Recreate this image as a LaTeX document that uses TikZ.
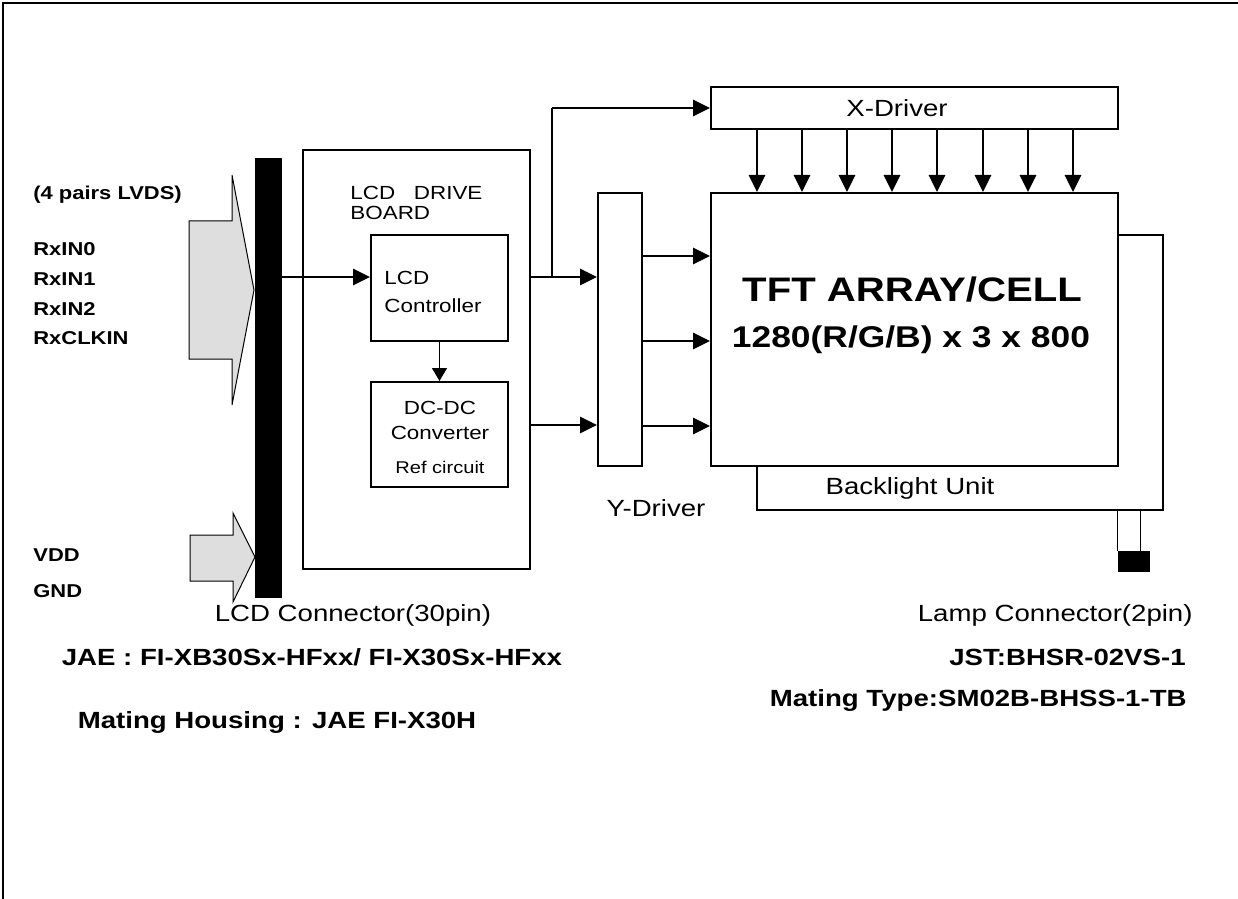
\documentclass[tikz,border=0pt]{standalone}
\usepackage{fontspec}
\setmainfont[FakeStretch=1.18]{Liberation Sans}
\usetikzlibrary{arrows.meta, positioning, calc}

\tikzset{
  box/.style={draw, line width=1pt, fill=white, inner sep=0pt},
  thinbox/.style={draw, line width=0.6pt, fill=white, inner sep=0pt},
  sig/.style={line width=1.4pt, -{Triangle[length=8.5pt, width=8pt]}},
  ctl/.style={line width=0.6pt, -{Triangle[length=6.5pt, width=7.5pt]}},
  inflow/.style={draw, line width=0.5pt, fill=black!13},
  txt/.style={inner sep=0pt, font=\fontsize{11.7}{13}\selectfont},
  btxt/.style={inner sep=0pt, font=\bfseries\fontsize{11.7}{13}\selectfont},
  pin/.style={inner sep=0pt, anchor=west, font=\bfseries\fontsize{9.3}{11}\selectfont},
  small/.style={inner sep=0pt, font=\fontsize{9.5}{12}\selectfont},
}

\begin{document}
\begin{tikzpicture}[x=0.5pt, y=-0.5pt]
    \useasboundingbox (0,0) rectangle (1238,899);

    % Page frame (top and left edges only)
    \draw[line width=1pt] (3,899) -- (3,3) -- (1238,3);

    % ==== Input arrows ====
    \path[inflow] (189,221) -- (232,221) -- (232,175) -- (254,290) -- (232,405) -- (232,359) -- (189,359) -- cycle;
    \path[inflow] (190,535) -- (233,535) -- (233,513) -- (255,557) -- (233,602) -- (233,581) -- (190,581) -- cycle;

    % LCD connector bar
    \node[draw, fill=black, inner sep=0pt, minimum width=13pt, minimum height=219.5pt] (bar) at (268,377.5) {};

    % Signal names
    \node[pin] (lvds) at (33,195) {(4 pairs LVDS)};
    \node[pin] (rxa) at (33,249) {RxIN0};
    \node[pin] (rxb) at (33,279) {RxIN1};
    \node[pin] (rxc) at (33,309) {RxIN2};
    \node[pin] (rxclk) at (33,338) {RxCLKIN};
    \node[pin] (vdd) at (33,555) {VDD};
    \node[pin] (gnd) at (33,591) {GND};

    % ==== LCD drive board ====
    \node[box, minimum width=113.5pt, minimum height=209.5pt] (board) at (416.5,359.5) {};
    \node[small, align=left, anchor=west, font=\fontsize{9.5}{10}\selectfont] (boardlbl) at (350,203) {LCD\ \ \ DRIVE\\BOARD};
    \node[box, minimum width=68.5pt, minimum height=53pt] (ctrl) at (439.5,288) {};
    \node[small, align=left, anchor=west, font=\fontsize{9.5}{14}\selectfont] (ctrllbl) at (384,292) {LCD\\Controller};
    \node[box, minimum width=68.5pt, minimum height=52.5pt] (dcdc) at (439.5,434.5) {};
    \node[small, align=center, font=\fontsize{9.5}{12.5}\selectfont] (dclbl) at (440,420.5) {DC-DC\\Converter};
    \node[inner sep=0pt, font=\fontsize{8.5}{10}\selectfont] (reflbl) at (440,467) {Ref circuit};

    % ==== Drivers and panel ====
    \node[thinbox, minimum width=203pt, minimum height=137.5pt] (blu) at (960,372.5) {};
    \node[box, minimum width=203.5pt, minimum height=136.5pt] (tft) at (914.5,329.5) {};
    \node[box, minimum width=203.5pt, minimum height=21pt] (xdrv) at (914.5,108) {};
    \node[box, minimum width=22pt, minimum height=136.5pt] (ydrv) at (620,329.5) {};

    \node[txt] (xlbl) at (897,108) {X-Driver};
    \node[txt] (ylbl) at (656,508) {Y-Driver};
    \node[txt] (blulbl) at (910,488) {Backlight Unit};
    \node[inner sep=0pt, font=\bfseries\fontsize{17}{20}\selectfont] (tftlbl) at (912,290) {TFT ARRAY/CELL};
    \node[inner sep=0pt, font=\bfseries\fontsize{15}{18}\selectfont] (reslbl) at (911,340) {1280(R/G/B) x 3 x 800};

    % Lamp connector
    \node[fill=black, inner sep=0pt, minimum width=16pt, minimum height=10.5pt] (lamp) at (1134,561.5) {};
    \draw[line width=0.5pt] (lamp.north west) -- (lamp.north west |- blu.south);
    \draw[line width=0.7pt] ($(lamp.north west)+(23,0)$) -- ($(lamp.north west |- blu.south)+(23,0)$);

    % ==== Connectors ====
    \coordinate (rowa) at (0,277);
    \coordinate (rowb) at (0,425);
    \coordinate (tap) at (552,277);
    \draw[sig] (bar.east |- rowa) -- (ctrl.west |- rowa);
    \draw[sig] (board.east |- rowa) -- (ydrv.west |- rowa);
    \draw[sig] (board.east |- rowb) -- (ydrv.west |- rowb);
    \draw[line width=0.7pt] (tap) -- (tap |- xdrv.west);
    \draw[sig] (tap |- xdrv.west) -- (xdrv.west);
    \draw[ctl] (ctrl.south) -- (dcdc.north);
    \foreach \yy in {256,341,426} {
        \coordinate (yrow) at (0,\yy);
        \draw[sig] (ydrv.east |- yrow) -- (tft.west |- yrow);
    }
    \foreach \xx in {757,802,847,892,937,983,1028,1073} {
        \coordinate (xcol) at (\xx,0);
        \draw[sig] (xdrv.south -| xcol) -- (tft.north -| xcol);
    }

    % ==== Connector notes ====
    \node[txt] (lcdconn) at (353,615) {LCD Connector(30pin)};
    \node[btxt] (jae) at (312,657) {JAE : FI-XB30Sx-HFxx/ FI-X30Sx-HFxx};
    \node[btxt] (housing) at (277,722) {Mating Housing : JAE FI-X30H};
    \node[txt, anchor=east] (lampconn) at (1193,615) {Lamp Connector(2pin)};
    \node[btxt, anchor=east] (jst) at (1186,657) {JST:BHSR-02VS-1};
    \node[btxt, anchor=east] (matetype) at (1187,700) {Mating Type:SM02B-BHSS-1-TB};
\end{tikzpicture}
\end{document}
